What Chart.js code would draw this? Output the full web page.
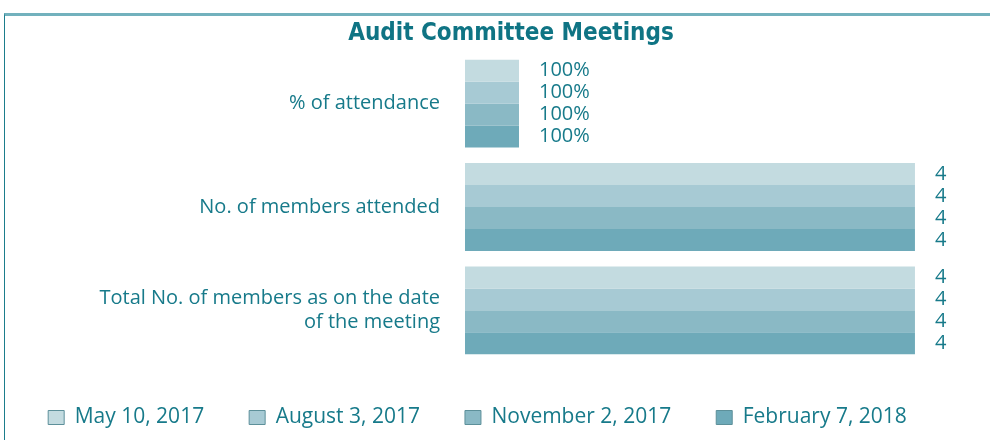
<!DOCTYPE html>
<html>
<head>
<meta charset="utf-8">
<script src="https://cdn.jsdelivr.net/npm/chart.js@4.4.0/dist/chart.umd.min.js"></script>
<style>
  body { margin: 0; background: #fff; }
  #wrap { position: relative; width: 990px; height: 440px; }
  #frame { position: absolute; left: 4px; top: 13px; right: 0; bottom: 0;
           border-top: 3px solid #72b1bd; border-left: 1px solid #1b7d8c; pointer-events: none; }
  #title { position: absolute; left: 311px; width: 400px; top: 18px; line-height: 28px;
           text-align: center; color: #0f7484; font: bold 24px 'DejaVu Sans Condensed'; }
  canvas { position: absolute; left: 0; top: 0; }
</style>
</head>
<body>
<div id="wrap">
  <canvas id="myChart" width="990" height="440"></canvas>
  <div id="frame"></div>
  <div id="title">Audit Committee Meetings</div>
</div>
<script>
const categories = ['% of attendance', 'No. of members attended', ['Total No. of members as on the date', 'of the meeting']];
const meetings = ['May 10, 2017', 'August 3, 2017', 'November 2, 2017', 'February 7, 2018'];
const attendancePct = [100, 100, 100, 100];
const attendanceBar = [0.48, 0.48, 0.48, 0.48]; // bar length as drawn in the picture
const membersAttended = [4, 4, 4, 4];
const totalMembers = [4, 4, 4, 4];
const colors = ['#c3dbe0', '#a7cad4', '#8ab9c5', '#6eaab9'];

const textColor = '#177a8a';
const fontName = 'Open Sans';

const datasets = meetings.map((m, i) => ({
  label: m,
  data: [attendanceBar[i], membersAttended[i], totalMembers[i]],
  shown: [attendancePct[i] + '%', String(membersAttended[i]), String(totalMembers[i])],
  backgroundColor: colors[i],
  borderWidth: 0
}));

// value text right of every bar
const valueLabels = {
  id: 'valueLabels',
  afterDatasetsDraw(chart) {
    const ctx = chart.ctx;
    ctx.save();
    ctx.fillStyle = textColor;
    ctx.font = '20px ' + fontName;
    ctx.textBaseline = 'middle';
    chart.data.datasets.forEach((ds, i) => {
      chart.getDatasetMeta(i).data.forEach((bar, j) => {
        ctx.fillText(ds.shown[j], bar.x + 20, bar.y);
      });
    });
    ctx.restore();
  }
};

var ctx = document.getElementById('myChart').getContext('2d');
var myChart = new Chart(ctx, {
  type: 'bar',
  data: { labels: categories, datasets: datasets },
  plugins: [valueLabels],
  options: {
    responsive: false,
    animation: false,
    indexAxis: 'y',
    layout: { padding: { top: 52, left: 0, right: 35, bottom: 2 } },
    datasets: { bar: { categoryPercentage: 0.85, barPercentage: 1 } },
    scales: {
      x: { display: false, min: 0, max: 4.356 },
      y: {
        grid: { display: false, drawTicks: false },
        border: { display: false },
        ticks: { color: textColor, font: { family: fontName, size: 20 }, padding: 25 },
        afterFit: function (scale) { scale.width = 465; }
      }
    },
    plugins: {
      title: { display: false },
      legend: {
        position: 'bottom',
        labels: {
          color: textColor,
          font: { family: fontName, size: 21 },
          boxWidth: 16,
          boxHeight: 14,
          padding: 45,
          generateLabels: function (chart) {
            return chart.data.datasets.map((ds, i) => ({
              text: ds.label,
              fillStyle: ds.backgroundColor,
              strokeStyle: '#5d909a',
              lineWidth: 1,
              fontColor: textColor,
              datasetIndex: i
            }));
          }
        }
      },
      tooltip: { enabled: false }
    }
  }
});
</script>
</body>
</html>
